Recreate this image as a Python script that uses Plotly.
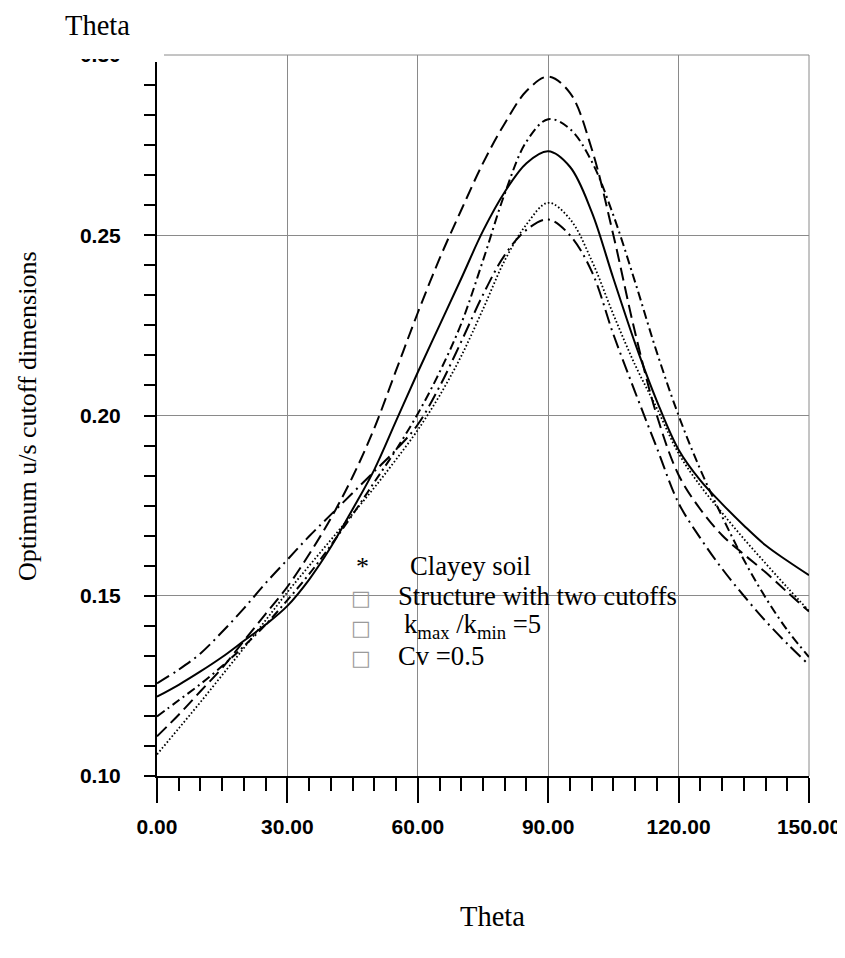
import plotly.graph_objects as go

# ---------------- data ----------------
theta = [0, 5, 10, 15, 20, 25, 30, 35, 40, 45, 50, 55, 60, 65, 70, 75,
         80, 85, 90, 95, 100, 105, 110, 115, 120, 125, 130, 135, 140, 145, 150]

solid_curve = [0.1220, 0.1253, 0.1290, 0.1330, 0.1375, 0.1420, 0.1472, 0.1545, 0.1635, 0.1740, 0.1850,
               0.1985, 0.2120, 0.2250, 0.2380, 0.2512, 0.2620, 0.2700, 0.2733, 0.2690, 0.2565,
               0.2380, 0.2200, 0.2040, 0.1905, 0.1820, 0.1755, 0.1695, 0.1640, 0.1597, 0.1557]
longdash_curve = [0.1110, 0.1170, 0.1235, 0.1300, 0.1375, 0.1450, 0.1525, 0.1615, 0.1715, 0.1830, 0.1965,
                  0.2125, 0.2285, 0.2435, 0.2570, 0.2700, 0.2810, 0.2900, 0.2940, 0.2895, 0.2740,
                  0.2500, 0.2230, 0.2000, 0.1835, 0.1740, 0.1668, 0.1615, 0.1565, 0.1510, 0.1456]
dashdot_curve = [0.1165, 0.1210, 0.1255, 0.1305, 0.1360, 0.1420, 0.1488, 0.1560, 0.1640, 0.1725, 0.1815,
                 0.1905, 0.2005, 0.2120, 0.2255, 0.2430, 0.2615, 0.2760, 0.2822, 0.2795, 0.2705,
                 0.2555, 0.2370, 0.2175, 0.2000, 0.1850, 0.1720, 0.1600, 0.1495, 0.1405, 0.1330]
dotted_curve = [0.1060, 0.1132, 0.1205, 0.1280, 0.1355, 0.1432, 0.1510, 0.1583, 0.1655, 0.1727, 0.1800,
                0.1878, 0.1960, 0.2055, 0.2165, 0.2295, 0.2430, 0.2530, 0.2590, 0.2545, 0.2430,
                0.2280, 0.2140, 0.2020, 0.1895, 0.1805, 0.1730, 0.1658, 0.1590, 0.1523, 0.1458]
longdashdot_curve = [0.1257, 0.1295, 0.1340, 0.1400, 0.1465, 0.1535, 0.1600, 0.1665, 0.1725, 0.1785, 0.1845,
                     0.1905, 0.1975, 0.2080, 0.2205, 0.2335, 0.2445, 0.2515, 0.2544, 0.2500, 0.2400,
                     0.2225, 0.2065, 0.1910, 0.1757, 0.1660, 0.1575, 0.1500, 0.1430, 0.1367, 0.1308]

x_tick_vals = [0, 30, 60, 90, 120, 150]
x_tick_text = ["0.00", "30.00", "60.00", "90.00", "120.00", "150.00"]
y_tick_vals = [0.10, 0.15, 0.20, 0.25, 0.30]
y_tick_text = ["0.10", "0.15", "0.20", "0.25", "0.30"]

legend_symbols = ["*", "\u25a1", "\u25a1", "\u25a1"]
legend_texts = ["Clayey soil", "Structure with two cutoffs",
                "k<sub>max</sub> /k<sub>min</sub> =5", "Cv =0.5"]

x_title = "Theta"
top_title = "Theta"
y_title = "Optimum u/s cutoff dimensions"

# ---------------- layout geometry (page pixels) ----------------
PAGE_W, PAGE_H = 845, 958
OFF = 8                      # default body margin of the html page
W, H = PAGE_W - OFF, PAGE_H - OFF
L, R, T, B = 157, 809, 55, 776   # plot area in page pixels


def px(x):
    return (x - L) / (R - L)


def py(y):
    return (B - y) / (B - T)


SERIF = "Liberation Serif"
SANS = "Liberation Sans"
GRID = "#8a8a8a"

fig = go.Figure()

styles = [
    (solid_curve, "solid", 2.0),
    (longdash_curve, "13px,6px", 2.0),
    (dashdot_curve, "9px,4px,2px,4px", 2.0),
    (dotted_curve, "1.6px,2.2px", 1.8),
    (longdashdot_curve, "14px,5px,2px,5px", 2.0),
]
for vals, dash, w in styles:
    fig.add_trace(go.Scatter(
        x=theta, y=vals, mode="lines",
        line=dict(color="black", width=w, dash=dash, shape="spline", smoothing=1.0),
        showlegend=False, hoverinfo="skip"))

fig.update_layout(
    width=W, height=H,
    margin=dict(l=L - OFF, r=PAGE_W - R, t=T - OFF, b=PAGE_H - B, pad=0, autoexpand=False),
    plot_bgcolor="white", paper_bgcolor="white",
    showlegend=False,
)

fig.update_xaxes(
    range=[0, 150], tickmode="array", tickvals=x_tick_vals, ticktext=x_tick_text,
    ticks="outside", ticklen=25, tickwidth=2, tickcolor="black",
    showline=True, linecolor="black", linewidth=2, automargin=False,
    showgrid=True, gridcolor=GRID, gridwidth=1, zeroline=False,
    minor=dict(dtick=5, tick0=0, ticks="outside", ticklen=13, tickwidth=2,
               tickcolor="black", showgrid=False),
    tickfont=dict(family=SANS, size=21, color="black", weight="bold"),
    ticklabelstandoff=6,
)
fig.update_yaxes(
    range=[0.10, 0.30], tickmode="array", tickvals=y_tick_vals, ticktext=y_tick_text,
    ticks="outside", ticklen=11, tickwidth=2, tickcolor="black",
    showline=True, linecolor="black", linewidth=2, automargin=False,
    showgrid=True, gridcolor=GRID, gridwidth=1, zeroline=False,
    minor=dict(dtick=0.05 / 6, tick0=0.10, ticks="outside", ticklen=11, tickwidth=2,
               tickcolor="black", showgrid=False),
    tickfont=dict(family=SANS, size=21, color="black", weight="bold"),
    ticklabelstandoff=19,
)

# boundary gridlines (right edge and top)
fig.add_shape(type="line", xref="paper", yref="paper", x0=1, x1=1, y0=0, y1=1,
              line=dict(color=GRID, width=1), layer="below")
fig.add_shape(type="line", xref="paper", yref="paper", x0=px(164), x1=1, y0=1, y1=1,
              line=dict(color=GRID, width=1), layer="below")
# white legend background (covers gridlines but not curves)
fig.add_shape(type="rect", xref="paper", yref="paper",
              x0=px(331), x1=px(706), y0=py(695), y1=py(541),
              fillcolor="white", line=dict(width=0), layer="between")
# clipped top-left region (only the bottom sliver of the 0.30 label shows)
fig.add_shape(type="rect", xref="paper", yref="paper",
              x0=px(60), x1=px(140), y0=py(59), y1=py(38),
              fillcolor="white", line=dict(width=0), layer="above")
fig.add_shape(type="rect", xref="paper", yref="paper",
              x0=px(140), x1=px(163), y0=py(62), y1=py(38),
              fillcolor="white", line=dict(width=0), layer="above")

ann = []
row_base = [575, 605, 635, 665]
text_x = [408, 396, 402, 396]
for i, (sym, txt) in enumerate(zip(legend_symbols, legend_texts)):
    b = row_base[i]
    if sym == "*":
        ann.append(dict(text=sym, x=px(362), y=py(b - 9), xref="paper", yref="paper",
                        xanchor="center", yanchor="middle", showarrow=False,
                        font=dict(family=SERIF, size=26, color="black")))
    else:
        ann.append(dict(text=sym, x=px(361), y=py(b - 7), xref="paper", yref="paper",
                        xanchor="center", yanchor="middle", showarrow=False,
                        font=dict(family="DejaVu Sans", size=21, color="#9a9a9a")))
    ann.append(dict(text=txt, x=px(text_x[i]), y=py(b - 9), xref="paper", yref="paper",
                    xanchor="left", yanchor="middle", showarrow=False,
                    font=dict(family=SERIF, size=26.7, color="black")))

ann.append(dict(text=top_title, x=px(63), y=py(25), xref="paper", yref="paper",
                xanchor="left", yanchor="middle", showarrow=False,
                font=dict(family=SERIF, size=28.5, color="black")))
ann.append(dict(text=x_title, x=px(492), y=py(917), xref="paper", yref="paper",
                xanchor="center", yanchor="middle", showarrow=False,
                font=dict(family=SERIF, size=28.5, color="black")))
ann.append(dict(text=y_title, x=px(27), y=py(416), xref="paper", yref="paper",
                xanchor="center", yanchor="middle", showarrow=False, textangle=-90,
                font=dict(family=SERIF, size=26, color="black")))
fig.update_layout(annotations=ann)

fig.write_html("out.html")
